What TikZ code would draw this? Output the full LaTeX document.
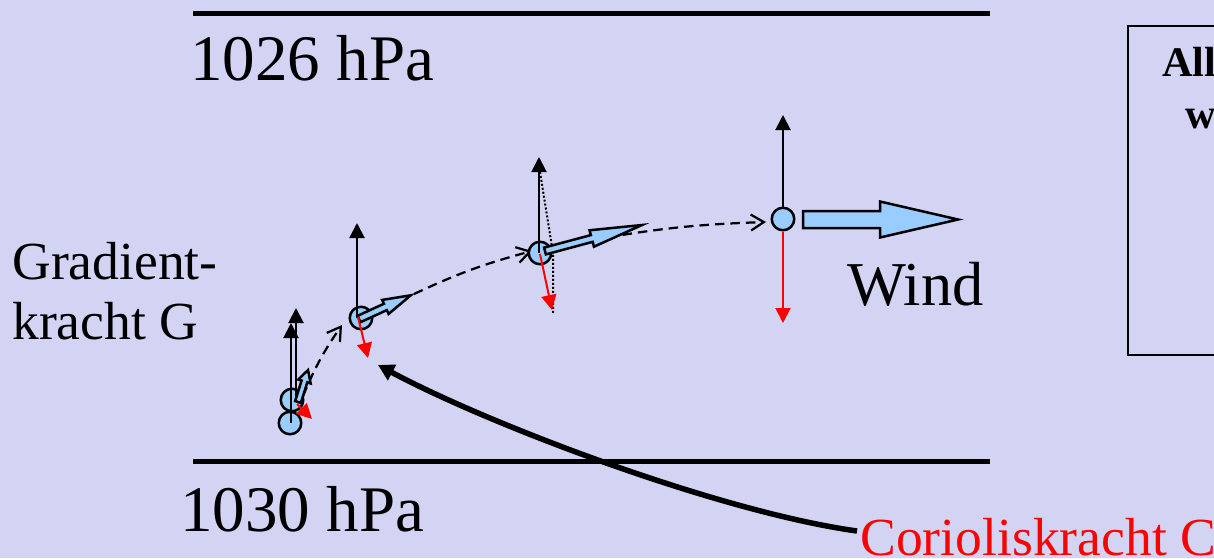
\documentclass[tikz,border=0pt]{standalone}
\usepackage{fontspec}
\setmainfont{Liberation Serif}
\usetikzlibrary{arrows.meta}
\definecolor{bgcol}{RGB}{211,211,243}
\definecolor{parcelblue}{RGB}{153,204,255}
\newcommand{\fatarr}[7]{%
  \draw[fatarrow,shift={(#1,#2)},rotate=#3]
    (0,-#5) -- (#4-#7,-#5) -- (#4-#7,-#6) -- (#4,0) -- (#4-#7,#6) -- (#4-#7,#5) -- (0,#5) -- cycle;}
\tikzset{
  parcel/.style={circle,draw=black,fill=parcelblue,line width=0.05cm,minimum size=0.45cm,inner sep=0pt},
  gforce/.style={draw=black,line width=0.04cm,-{Triangle[length=0.3cm,width=0.3cm]}},
  cforce/.style={draw=red,line width=0.04cm,-{Triangle[length=0.3cm,width=0.3cm]}},
  fatarrow/.style={draw=black,fill=parcelblue,line width=0.05cm,line join=miter},
  pathline/.style={draw=black,line width=0.045cm,dash pattern=on 0.19cm off 0.12cm,-{Straight Barb[length=0.26cm,width=0.32cm,line width=0.045cm]}},
  isobar/.style={draw=black,line width=0.1cm},
  lblbig/.style={inner sep=0pt,anchor=base west,font=\fontsize{37}{40}\selectfont},
  lblmid/.style={inner sep=0pt,anchor=base west,font=\fontsize{30.5}{34}\selectfont},
  lblbold/.style={inner sep=0pt,anchor=base west,font=\fontsize{24}{28}\selectfont\bfseries},
}
\begin{document}
\begin{tikzpicture}[x=0.02cm,y=-0.02cm]
\useasboundingbox (0,0) rectangle (1214,558);
\clip (0,0) rectangle (1214,558);
\fill[bgcol] (0,0) rectangle (1214,558);

% isobars
\draw[isobar] (193,13) -- (990,13);
\draw[isobar] (193,461) -- (990,461);

% labels
\node[lblbig] (t1026) at (190,80) {1026 hPa};
\node[lblbig] (t1030) at (180,531) {1030 hPa};
\node[lblmid] (grad1) at (12,279) {Gradient-};
\node[lblmid] (grad2) at (12,339) {kracht G};
\node[inner sep=0pt,anchor=base west,font=\fontsize{35.5}{40}\selectfont] (wind) at (847,305) {Wind};
\node[lblmid,text=red] (cor) at (860,555) {Corioliskracht C};

% box
\draw[line width=0.04cm] (1128,26) rectangle (1250,355);
\node[lblbold] (all) at (1162,76) {All};
\node[lblbold] (w) at (1185,128) {w};

% coordinates of the path
\coordinate (d1s) at (303,396);
\coordinate (d1e) at (342,325);
\coordinate (d2s) at (414,294);
\coordinate (d2e) at (532,251);
\coordinate (d3s) at (592,240);
\coordinate (d3e) at (766,222);

% dashed trajectory
\draw[pathline] (d1s) to[bend left=6] (d1e);
\draw[pathline] (d2s) to[bend left=5] (d2e);
\draw[pathline] (d3s) to[bend left=4] (d3e);

% parcels
\node[parcel] (p1a) at (290,423) {};
\node[parcel] (p1b) at (292,400) {};
\node[parcel] (p2) at (361,318) {};
\node[parcel] (p3) at (540,253) {};
\node[parcel] (p4) at (783,219) {};

% force tips
\coordinate (g1a) at (291,323);
\coordinate (g1b) at (296,308);
\coordinate (g2) at (357,223);
\coordinate (g3) at (539,157);
\coordinate (g4) at (783,115);
\coordinate (c1) at (312,419);
\coordinate (c2) at (368,358);
\coordinate (c3) at (552,310);
\coordinate (c4) at (783,323);

% gradient forces
\draw[gforce] (291,423) -- (g1a);
\draw[gforce] (296,400) -- (g1b);
\draw[gforce] (357,318) -- (g2);
\draw[gforce] (539,253) -- (g3);
\draw[gforce] (p4.north) -- (g4);

% resultant (dotted)
\draw[line width=0.04cm,dash pattern=on 0.04cm off 0.04cm] (540,172) -- (553,253) -- (553,313);

% wind arrows
\fatarr{298}{402}{72.6}{33.5}{3}{6.5}{12}
\fatarr{359}{319}{24.6}{57}{3.5}{7.7}{28}
\fatarr{545}{251}{15}{100.4}{3.5}{8.5}{52}
\fatarr{803}{219.5}{0}{155}{8.5}{18}{78}

% coriolis forces
\draw[cforce] (297,404) -- (c1);
\draw[cforce] (358,317) -- (c2);
\draw[cforce] (540,254) -- (c3);
\draw[cforce] (p4.south) -- (c4);

% coriolis pointer
\coordinate (cstart) at (857,531);
\coordinate (ctip) at (378,365);
\draw[line width=0.11cm,-{Triangle[length=0.32cm,width=0.34cm]}] (cstart) .. controls (720,512) and (490,425) .. (ctip);
\end{tikzpicture}
\end{document}
